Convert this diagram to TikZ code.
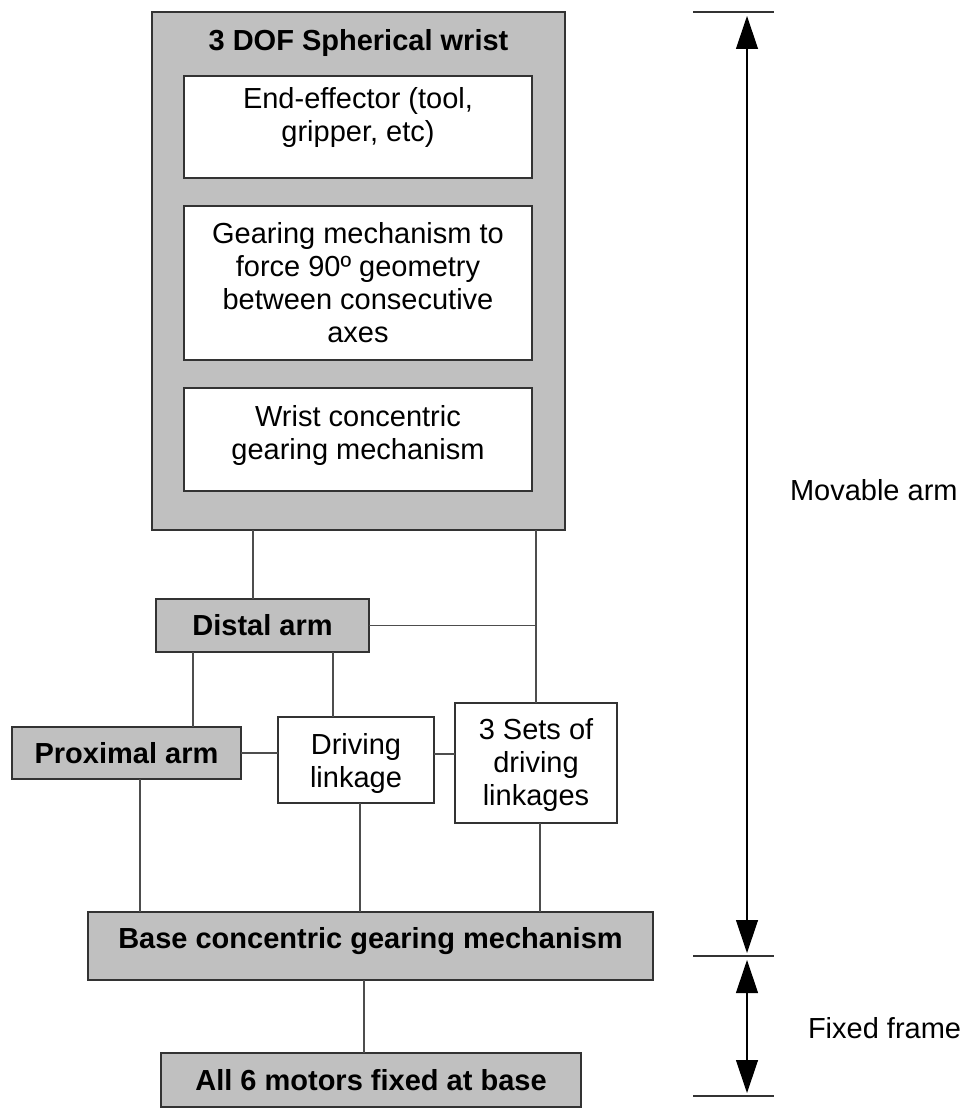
\documentclass[tikz,border=0pt]{standalone}
\usepackage{fontspec}
\setmainfont{Liberation Sans}
\usetikzlibrary{arrows.meta}
\definecolor{boxgray}{HTML}{C0C0C0}
\definecolor{edgecol}{HTML}{333333}
\definecolor{linkcol}{HTML}{4D4D4D}
\begin{document}
\begin{tikzpicture}[x=1pt,y=-1pt,
  every node/.style={inner sep=0pt,outer sep=0pt,font=\fontsize{29pt}{33pt}\selectfont},
  graybox/.style={draw=edgecol,fill=boxgray,line width=1.2pt,align=center,font=\fontsize{29pt}{33pt}\selectfont\bfseries},
  whitebox/.style={draw=edgecol,fill=white,line width=1.2pt,align=center},
  boxtext/.style={align=center},
  boldtext/.style={align=center,font=\fontsize{29pt}{33pt}\selectfont\bfseries},
  link/.style={draw=linkcol,line width=1.2pt},
  tick/.style={draw=edgecol,line width=1.2pt},
  dimarrow/.style={draw=black,line width=1.2pt,{Triangle[length=33pt,width=22pt]}-{Triangle[length=33pt,width=22pt]}}
]
\useasboundingbox (0,0) rectangle (963,1108);

% wrist assembly
\node[graybox,minimum width=413pt,minimum height=518pt] (wrist) at (358.5,271) {};
\node[boldtext,anchor=base] (wristtitle) at (358.5,51) {3 DOF Spherical wrist};
\node[whitebox,minimum width=348pt,minimum height=102pt] (ee) at (358,127) {};
\node[boxtext] (eetext) at (358,118) {End-effector (tool,\\gripper, etc)};
\node[whitebox,minimum width=348pt,minimum height=154pt] (gear) at (358,283) {Gearing mechanism to\\force 90º geometry\\between consecutive\\axes};
\node[whitebox,minimum width=348pt,minimum height=103pt] (wconc) at (358,439.5) {};
\node[boxtext] (wconctext) at (358,435.5) {Wrist concentric\\gearing mechanism};

% arm links
\node[graybox,minimum width=213pt,minimum height=53pt] (distal) at (262.5,625.5) {Distal arm};
\node[graybox,minimum width=229pt,minimum height=52pt] (prox) at (126.5,753) {Proximal arm};
\node[whitebox,minimum width=156pt,minimum height=86pt] (drive) at (356,760) {};
\node[boxtext] (drivetext) at (356,763) {Driving\\linkage};
\node[whitebox,minimum width=162pt,minimum height=120pt] (sets) at (536,763) {};
\node[boxtext] (setstext) at (536,765) {3 Sets of\\driving\\linkages};

% base
\node[graybox,minimum width=565pt,minimum height=68pt] (base) at (370.5,946) {};
\node[boldtext] (basetext) at (370.5,941.5) {Base concentric gearing mechanism};
\node[graybox,minimum width=420pt,minimum height=54pt] (motors) at (371,1080) {All 6 motors fixed at base};

% connections
\draw[link] ([xshift=-105.5pt]wrist.south) -- ([xshift=-9.5pt]distal.north);
\draw[link] ([xshift=177.5pt]wrist.south) -- (sets.north);
\draw[link] (distal.east) -- (distal.east -| sets.north);
\draw[link] ([xshift=-69.5pt]distal.south) -- ([xshift=66.5pt]prox.north);
\draw[link] ([xshift=70.5pt]distal.south) -- ([xshift=-23pt]drive.north);
\draw[link] (prox.east) -- (prox.east -| drive.west);
\draw[link] ([yshift=6pt]drive.east) -- ([yshift=6pt]drive.east -| sets.west);
\draw[link] ([xshift=13.5pt]prox.south) -- ([xshift=13.5pt]prox.south |- base.north);
\draw[link] ([xshift=4pt]drive.south) -- ([xshift=4pt]drive.south |- base.north);
\draw[link] ([xshift=4pt]sets.south) -- ([xshift=4pt]sets.south |- base.north);
\draw[link] ([xshift=-6.5pt]base.south) -- ([xshift=-7pt]motors.north);

% extent markers on the right
\coordinate (topL) at (693,12);   \coordinate (topR) at (774,12);
\coordinate (midL) at (693,956);  \coordinate (midR) at (774,956);
\coordinate (botL) at (693,1096); \coordinate (botR) at (774,1096);
\coordinate (movA) at (747,16);   \coordinate (movB) at (747,953);
\coordinate (fixA) at (747,960);  \coordinate (fixB) at (747,1093);
\draw[tick] (topL) -- (topR);
\draw[tick] (midL) -- (midR);
\draw[tick] (botL) -- (botR);
\draw[dimarrow] (movA) -- (movB);
\draw[dimarrow] (fixA) -- (fixB);
\node[anchor=base west] (movlbl) at (790,500) {Movable arm};
\node[anchor=base west] (fixlbl) at (808,1038) {Fixed frame};
\end{tikzpicture}
\end{document}
